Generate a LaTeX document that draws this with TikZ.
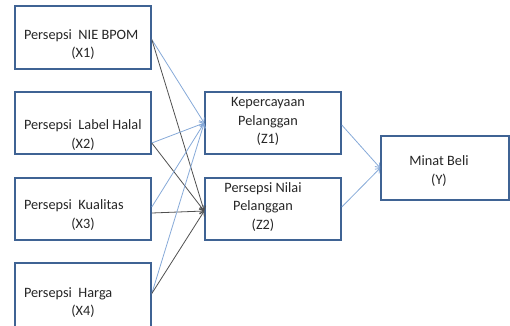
\documentclass[tikz,border=0pt]{standalone}
\usepackage{fontspec}
\setmainfont{Carlito}
\usepackage{xcolor}
\usetikzlibrary{arrows.meta,positioning}

\definecolor{boxline}{HTML}{3F6394}
\definecolor{linkblue}{HTML}{86A9D8}
\definecolor{linkdark}{HTML}{505050}
\newcommand{\xlab}[2]{\mbox{#1}\\\makebox[\hsize]{#2}}

\begin{document}
\begin{tikzpicture}[x=1pt,y=-1pt,
  box/.style={draw=boxline,line width=1.6pt,minimum width=136pt,minimum height=62pt,inner sep=0pt},
  lbl/.style={font=\fontsize{14.3}{18.5}\selectfont,text=black!85,inner sep=0pt},
  xlbl/.style={lbl,text width=118pt,align=flush left},
  zlbl/.style={lbl,align=center},
  blu/.style={draw=linkblue,line width=0.8pt,-{Straight Barb[length=4pt,width=6pt]}},
  drk/.style={draw=linkdark,line width=0.8pt,-{Straight Barb[length=4pt,width=6pt]}}
]
\useasboundingbox (0,0) rectangle (510,325);
\clip (0,0) rectangle (510,325);
% left column
\node[box,minimum height=63pt] (x1) at (83,37.5) {};
\node[box] (x2) at (83,123) {};
\node[box] (x3) at (83,209) {};
\node[box,minimum height=67pt] (x4) at (83,296.5) {};
\node[xlbl] (x1t) at ([yshift=-7pt]x1.center) {\xlab{Persepsi~~NIE BPOM}{(X1)}};
\node[xlbl] (x2t) at ([yshift=-12pt]x2.center) {\xlab{Persepsi~~Label Halal}{(X2)}};
\node[xlbl] (x3t) at ([yshift=-6pt]x3.center) {\xlab{Persepsi~~Kualitas}{(X3)}};
\node[xlbl] (x4t) at ([yshift=-6pt]x4.center) {\xlab{Persepsi~~Harga}{(X4)}};
% middle and right
\node[box] (z1) at (273,123) {};
\node[box] (z2) at (273,209) {};
\node[box,minimum width=128pt,minimum height=64pt] (y) at (445,168) {};
\node[zlbl] (z1t) at ([xshift=-5pt,yshift=1.5pt]z1.center) {Kepercayaan\\Pelanggan\\(Z1)};
\node[zlbl] (z2t) at ([xshift=-10pt,yshift=2pt]z2.center) {Persepsi Nilai\\Pelanggan\\(Z2)};
\node[zlbl] (yt) at ([xshift=-6pt,yshift=-3pt]y.center) {Minat Beli\\(Y)};
% links
\draw[blu] ([yshift=-2pt]x1.east) -- (z1.west);
\draw[drk] ([yshift=-2pt]x1.east) -- ([yshift=-2pt]z2.west);
\draw[blu] ([yshift=-20pt]x2.east) -- (z1.west);
\draw[drk] ([yshift=-20pt]x2.east) -- ([yshift=-2pt]z2.west);
\draw[blu] ([yshift=2pt]x3.east) -- (z1.west);
\draw[drk] ([yshift=-4pt]x3.east) -- ([yshift=-2pt]z2.west);
\draw[blu] ([yshift=3pt]x4.east) -- (z1.west);
\draw[drk] ([yshift=3pt]x4.east) -- ([yshift=-2pt]z2.west);
\draw[blu] ([yshift=-2pt]z1.east) -- (y.west);
\draw[blu] ([yshift=2pt]z2.east) -- (y.west);
\end{tikzpicture}
\end{document}
